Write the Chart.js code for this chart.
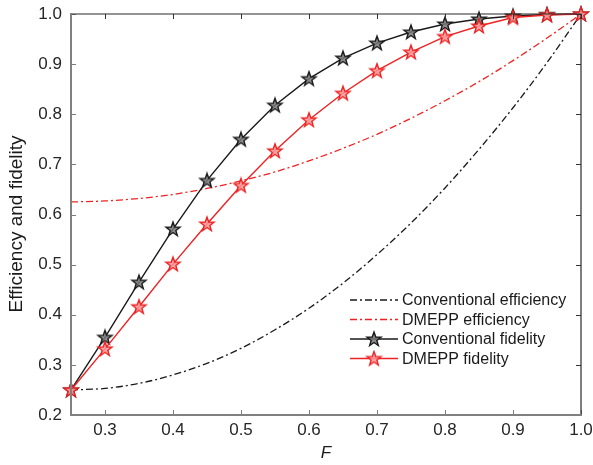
<!DOCTYPE html>
<html>
<head>
<meta charset="utf-8">
<script src="https://cdn.jsdelivr.net/npm/chart.js@4/dist/chart.umd.min.js"></script>
<style>
  html, body { margin: 0; padding: 0; background: #ffffff; }
  #wrap { width: 593px; height: 465px; }
</style>
</head>
<body>
<div id="wrap"><canvas id="chart" width="593" height="465"></canvas></div>
<script>
// Input fidelity F
const F = [0.25, 0.30, 0.35, 0.40, 0.45, 0.50, 0.55, 0.60, 0.65, 0.70, 0.75, 0.80, 0.85, 0.90, 0.95, 1.00];

// Efficiency curves (dash-dot)
const convEfficiency  = [0.250, 0.253, 0.263, 0.280, 0.303, 0.333, 0.370, 0.413, 0.463, 0.520, 0.583, 0.653, 0.730, 0.813, 0.903, 1.000];
const dmeppEfficiency = [0.625, 0.627, 0.632, 0.640, 0.652, 0.667, 0.685, 0.707, 0.732, 0.760, 0.792, 0.827, 0.865, 0.907, 0.952, 1.000];

// Fidelity curves (solid with star markers)
const convFidelity  = [0.250, 0.355, 0.465, 0.571, 0.668, 0.750, 0.818, 0.871, 0.912, 0.942, 0.964, 0.980, 0.990, 0.996, 0.999, 1.000];
const dmeppFidelity = [0.250, 0.332, 0.416, 0.501, 0.581, 0.658, 0.727, 0.789, 0.842, 0.887, 0.924, 0.955, 0.976, 0.993, 0.998, 1.000];

const seriesNames = ['Conventional efficiency', 'DMEPP efficiency', 'Conventional fidelity', 'DMEPP fidelity'];

const xTicks = [0.3, 0.4, 0.5, 0.6, 0.7, 0.8, 0.9, 1.0];
const yTicks = [0.2, 0.3, 0.4, 0.5, 0.6, 0.7, 0.8, 0.9, 1.0];

const BLACK = '#1a1a1a';
const RED = '#ee2222';
const DASHDOT = [7, 3, 2, 3];
const FONT = '"Liberation Sans", Arial, Helvetica, sans-serif';

// Five-pointed star marker drawn on a small canvas
function makeStar(stroke, fill) {
  const s = 18, c = s / 2, R = 7.4, r = 3.0;
  const cv = document.createElement('canvas');
  cv.width = s; cv.height = s;
  const g = cv.getContext('2d');
  g.beginPath();
  for (let i = 0; i < 10; i++) {
    const rad = i % 2 === 0 ? R : r;
    const a = -Math.PI / 2 + i * Math.PI / 5;
    const px = c + rad * Math.cos(a), py = c + 0.5 + rad * Math.sin(a);
    if (i === 0) g.moveTo(px, py); else g.lineTo(px, py);
  }
  g.closePath();
  g.fillStyle = fill;
  g.fill();
  g.lineWidth = 1.4;
  g.strokeStyle = stroke;
  g.lineJoin = 'miter';
  g.stroke();
  return cv;
}
const starBlack = makeStar(BLACK, 'rgba(120,120,120,0.85)');
const starRed = makeStar(RED, 'rgba(255,150,150,0.85)');

const pts = ys => F.map((x, i) => ({ x: x, y: ys[i] }));

// Frame, inward ticks, legend and y-axis title
const decorations = {
  id: 'decorations',
  afterDatasetsDraw(chart) {
    const { ctx, chartArea: a, scales: { x, y } } = chart;
    const T = 5;
    ctx.save();
    // ticks on all four sides
    ctx.lineWidth = 1;
    xTicks.forEach(v => {
      const px = Math.round(x.getPixelForValue(v)) + 0.5;
      ctx.strokeStyle = '#7a7a7a';
      ctx.beginPath(); ctx.moveTo(px, a.bottom); ctx.lineTo(px, a.bottom - T); ctx.stroke();
      ctx.strokeStyle = '#333333';
      ctx.beginPath(); ctx.moveTo(px, a.top); ctx.lineTo(px, a.top + T); ctx.stroke();
    });
    yTicks.forEach(v => {
      const py = Math.round(y.getPixelForValue(v)) + 0.5;
      ctx.strokeStyle = '#7a7a7a';
      ctx.beginPath(); ctx.moveTo(a.left, py); ctx.lineTo(a.left + T, py); ctx.stroke();
      ctx.strokeStyle = '#333333';
      ctx.beginPath(); ctx.moveTo(a.right, py); ctx.lineTo(a.right - T, py); ctx.stroke();
    });
    // frame: top/right dark, left/bottom grey
    ctx.strokeStyle = '#2a2a2a';
    ctx.lineWidth = 1.2;
    ctx.beginPath();
    ctx.moveTo(a.left, a.top); ctx.lineTo(a.right, a.top); ctx.lineTo(a.right, a.bottom);
    ctx.stroke();
    ctx.strokeStyle = '#808080';
    ctx.lineWidth = 2;
    ctx.beginPath();
    ctx.moveTo(a.left, a.top - 1); ctx.lineTo(a.left, a.bottom); ctx.lineTo(a.right + 1, a.bottom);
    ctx.stroke();

    // legend
    const ds = chart.data.datasets;
    const lx0 = 350, lx1 = 398, tx = 402, rowY = [300, 319.5, 339, 358.5];
    ctx.font = '16px ' + FONT;
    ctx.textBaseline = 'middle';
    ctx.textAlign = 'left';
    ds.forEach((d, i) => {
      const yy = rowY[i];
      ctx.strokeStyle = d.borderColor;
      ctx.lineWidth = d.borderWidth;
      ctx.setLineDash(d.borderDash || []);
      ctx.beginPath(); ctx.moveTo(lx0, yy); ctx.lineTo(lx1, yy); ctx.stroke();
      ctx.setLineDash([]);
      if (d.pointStyle instanceof HTMLCanvasElement) {
        const img = d.pointStyle;
        ctx.drawImage(img, (lx0 + lx1) / 2 - img.width / 2, yy - img.height / 2);
      }
      ctx.fillStyle = '#1a1a1a';
      ctx.fillText(d.label, tx, yy + 1);
    });

    // y-axis title
    ctx.save();
    ctx.translate(17, 224);
    ctx.rotate(-Math.PI / 2);
    ctx.font = '19px ' + FONT;
    ctx.textAlign = 'center';
    ctx.textBaseline = 'middle';
    ctx.fillStyle = '#1a1a1a';
    ctx.fillText('Efficiency and fidelity', 0, 0);
    ctx.restore();
    ctx.restore();
  }
};

new Chart(document.getElementById('chart'), {
  type: 'line',
  data: {
    datasets: [
      { label: seriesNames[0], data: pts(convEfficiency), borderColor: BLACK, borderWidth: 1.3,
        borderDash: DASHDOT, pointRadius: 0, cubicInterpolationMode: 'monotone', order: 3, clip: false },
      { label: seriesNames[1], data: pts(dmeppEfficiency), borderColor: RED, borderWidth: 1.3,
        borderDash: DASHDOT, pointRadius: 0, cubicInterpolationMode: 'monotone', order: 2, clip: false },
      { label: seriesNames[2], data: pts(convFidelity), borderColor: BLACK, borderWidth: 1.4,
        pointStyle: starBlack, pointRadius: 7, tension: 0, order: 1, clip: false },
      { label: seriesNames[3], data: pts(dmeppFidelity), borderColor: RED, borderWidth: 1.4,
        pointStyle: starRed, pointRadius: 7, tension: 0, order: 0, clip: false }
    ]
  },
  options: {
    responsive: false,
    animation: false,
    devicePixelRatio: 1,
    layout: { padding: { top: 14, right: 12, left: 0, bottom: 0 } },
    plugins: { legend: { display: false }, tooltip: { enabled: false } },
    scales: {
      x: {
        type: 'linear', min: 0.25, max: 1.0,
        afterBuildTicks: s => { s.ticks = xTicks.map(v => ({ value: v })); },
        afterFit: s => { s.height = 50; s.paddingLeft = 0; s.paddingRight = 0; },
        grid: { display: false, drawTicks: false },
        border: { display: false },
        ticks: { padding: 5, color: '#262626', font: { size: 17, family: FONT },
                 callback: v => v.toFixed(1), maxRotation: 0, autoSkip: false },
        title: { display: true, text: 'F', color: '#1a1a1a',
                 font: { size: 17, family: FONT, style: 'italic' }, padding: { top: 0, bottom: 2 } }
      },
      y: {
        type: 'linear', min: 0.2, max: 1.0,
        afterBuildTicks: s => { s.ticks = yTicks.map(v => ({ value: v })); },
        afterFit: s => { s.width = 71; s.paddingTop = 0; s.paddingBottom = 0; },
        grid: { display: false, drawTicks: false },
        border: { display: false },
        ticks: { padding: 9, color: '#262626', font: { size: 17, family: FONT },
                 callback: v => v.toFixed(1), autoSkip: false }
      }
    }
  },
  plugins: [decorations]
});
</script>
</body>
</html>
